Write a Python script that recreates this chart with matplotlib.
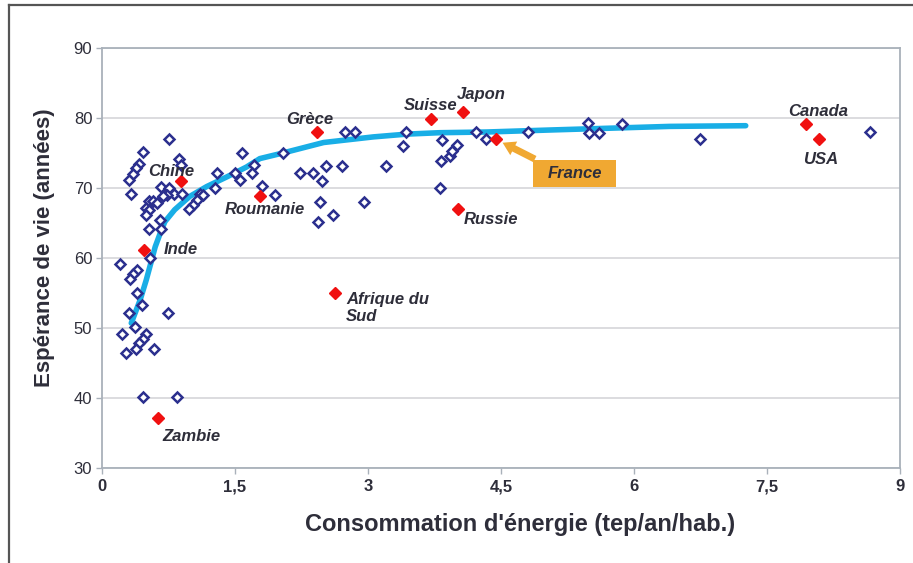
import matplotlib
matplotlib.use("Agg")
import matplotlib.pyplot as plt
from matplotlib.lines import Line2D
from matplotlib.patches import Rectangle, FancyArrowPatch

plt.rcParams['font.family'] = ['Liberation Sans', 'DejaVu Sans']

# ---- data -------------------------------------------------------------
x_ticks = [0, 1.5, 3, 4.5, 6, 7.5, 9]
x_tick_labels = ['0', '1,5', '3', '4,5', '6', '7,5', '9']
y_ticks = [30, 40, 50, 60, 70, 80, 90]
y_tick_labels = ['30', '40', '50', '60', '70', '80', '90']

# energy use (toe / year / inhabitant) and life expectancy (years)
country_energy = [
    0.76, 0.46, 0.42, 0.38, 0.35, 0.31, 0.33, 0.87, 0.89,
    0.67, 0.76, 0.81, 0.73, 0.69, 0.90, 0.53, 0.58, 0.62, 0.50, 0.53, 0.50,
    0.65, 0.67, 0.53, 0.54, 0.20, 0.39, 0.35, 0.32, 0.40, 0.45, 0.31, 0.74,
    0.37, 0.22, 0.50, 0.46, 0.42, 0.38, 0.27, 0.59, 0.46, 0.85,
    1.10, 1.07, 1.03, 0.98, 1.14, 1.27, 1.30, 1.50, 1.56, 1.58, 1.71, 1.69,
    1.81, 1.95, 2.04, 2.23, 2.38, 2.48, 2.53, 2.71, 2.46, 2.61, 2.44, 2.74,
    2.85, 2.95, 3.20, 3.40, 3.43, 3.81, 3.82, 3.92, 3.95, 4.00, 3.84, 4.22,
    4.33, 4.80, 5.48, 5.49, 5.61, 5.87, 6.74, 8.66,
]
country_life = [
    77.0, 75.1, 73.5, 72.8, 72.0, 71.1, 69.1, 74.1, 73.3,
    70.2, 70.0, 69.2, 69.0, 68.9, 69.1, 68.2, 68.2, 67.9, 67.1, 66.9, 66.1,
    65.5, 64.2, 64.2, 60.0, 59.2, 58.3, 57.7, 57.0, 55.0, 53.3, 52.2, 52.2,
    50.1, 49.1, 49.2, 48.5, 47.8, 47.0, 46.4, 47.0, 40.1, 40.1,
    69.2, 68.3, 67.6, 67.0, 69.0, 70.0, 72.2, 72.2, 71.2, 75.0, 73.3, 72.2,
    70.3, 69.0, 75.0, 72.1, 72.1, 71.0, 73.1, 73.1, 68.0, 66.1, 65.2, 78.0,
    78.0, 68.0, 73.1, 76.0, 78.0, 70.0, 73.9, 74.6, 75.3, 76.1, 76.9, 78.0,
    77.0, 78.0, 79.3, 77.9, 77.9, 79.1, 77.0, 78.0,
]

named_countries = ['Chine', 'Inde', 'Zambie', 'Roumanie', 'Grèce',
                   'Afrique du\nSud', 'Suisse', 'Japon', 'Russie', 'France',
                   'Canada', 'USA']
named_energy = [0.89, 0.47, 0.63, 1.78, 2.43, 2.63, 3.71, 4.07, 4.02, 4.44,
                7.94, 8.09]
named_life = [71.0, 61.1, 37.2, 68.9, 78.0, 55.0, 79.8, 80.8, 67.0, 77.0,
              79.1, 77.0]

# trend curve drawn through the cloud
trend_energy = [0.33, 0.43, 0.50, 0.56, 0.60, 0.67, 0.71, 0.82, 0.90, 0.99,
                1.18, 1.41, 1.63, 1.78, 2.04, 2.50, 3.06, 3.44, 3.81, 4.34,
                5.09, 6.40, 7.26]
trend_life = [50.7, 54.0, 56.9, 59.7, 61.6, 64.0, 65.2, 66.9, 67.8, 68.8,
              70.2, 71.6, 73.0, 74.2, 75.0, 76.5, 77.3, 77.7, 77.9, 78.0,
              78.3, 78.8, 78.9]

# ---- layout -----------------------------------------------------------
W, H = 913, 563
# label offsets in pixels from the marker: (dx, dy, ha)
label_offsets = {
    'Chine': (-10, 10, 'center'),
    'Inde': (37, 1, 'center'),
    'Zambie': (34, -19, 'center'),
    'Roumanie': (5, -14, 'center'),
    'Grèce': (-8, 13, 'center'),
    'Afrique du\nSud': (11, -15, 'left'),
    'Suisse': (0, 14, 'center'),
    'Japon': (18, 18, 'center'),
    'Russie': (33, -10, 'center'),
    'Canada': (12, 13, 'center'),
    'USA': (1, -21, 'center'),
}
text_color = '#2e2e3a'
navy = '#2b2f8e'
red = '#f01010'
cyan = '#19aee6'
orange = '#f0a832'
spine_gray = '#a9b1ba'
grid_gray = '#d9d9dc'

fig = plt.figure(figsize=(W / 100, H / 100), dpi=100)
ax = fig.add_axes([102 / W, (H - 468) / H, (900 - 102) / W, (468 - 48) / H])

# outer frame (left and top edges)
fig.add_artist(Line2D([9 / W, 9 / W], [0, 1 - 5 / H], color='#555555', lw=1.6))
fig.add_artist(Line2D([9 / W, 1], [1 - 5 / H, 1 - 5 / H], color='#555555', lw=1.6))

ax.set_xlim(0, 9)
ax.set_ylim(30, 90)
ax.set_xticks(x_ticks)
ax.set_xticklabels(x_tick_labels)
ax.set_yticks(y_ticks)
ax.set_yticklabels(y_tick_labels)

ax.yaxis.grid(True, color=grid_gray, lw=1.3, zorder=0)
ax.set_axisbelow(True)
for s in ax.spines.values():
    s.set_color(spine_gray)
    s.set_linewidth(1.3)

ax.tick_params(axis='both', colors=spine_gray, length=4, width=1.0,
               labelcolor=text_color)
for lab in ax.get_xticklabels():
    lab.set_fontsize(12)
    lab.set_fontweight('bold')
for lab in ax.get_yticklabels():
    lab.set_fontsize(12)
ax.tick_params(axis='x', pad=4)
ax.tick_params(axis='y', pad=3)

ax.set_xlabel("Consommation d'énergie (tep/an/hab.)", fontsize=17,
              fontweight='bold', color=text_color)
ax.xaxis.set_label_coords(0.524, -0.107)
ax.set_ylabel("Espérance de vie (années)", fontsize=16, fontweight='bold',
              color=text_color)
ax.yaxis.set_label_coords(-0.059, 0.524)

# scatter of all countries
ax.plot(country_energy, country_life, linestyle='none', marker='D',
        markersize=5.6, markerfacecolor='white', markeredgecolor=navy,
        markeredgewidth=1.8, zorder=3)

# trend curve
ax.plot(trend_energy, trend_life, color=cyan, lw=4, solid_capstyle='round',
        solid_joinstyle='round', zorder=2)

# highlighted countries
ax.plot(named_energy, named_life, linestyle='none', marker='D',
        markersize=6.5, markerfacecolor=red, markeredgecolor=red, zorder=4)

for name, xe, yl in zip(named_countries, named_energy, named_life):
    if name not in label_offsets:
        continue
    dx, dy, ha = label_offsets[name]
    ax.annotate(name, xy=(xe, yl), xytext=(dx, dy),
                textcoords='offset pixels', ha=ha, va='center',
                fontsize=12, fontweight='bold', fontstyle='italic',
                color=text_color, linespacing=1.1, zorder=5)

# France call-out box with arrow
fr_i = named_countries.index('France')
fr_x, fr_y = named_energy[fr_i], named_life[fr_i]
box_x0, box_x1 = 4.86, 5.80
box_y0, box_y1 = 70.1, 74.0
ax.add_patch(Rectangle((box_x0, box_y0), box_x1 - box_x0, box_y1 - box_y0,
                       facecolor=orange, edgecolor='none', zorder=5))
ax.text((box_x0 + box_x1) / 2, (box_y0 + box_y1) / 2, 'France',
        ha='center', va='center', fontsize=12, fontweight='bold',
        fontstyle='italic', color=text_color, zorder=6)
arrow = FancyArrowPatch((box_x0 + 0.05, box_y1 - 0.05), (fr_x + 0.05, fr_y - 0.35),
                        arrowstyle='simple,head_length=9,head_width=11,tail_width=5',
                        color=orange, lw=0, zorder=5, mutation_scale=1)
ax.add_patch(arrow)

fig.savefig('out.png', dpi=100)
